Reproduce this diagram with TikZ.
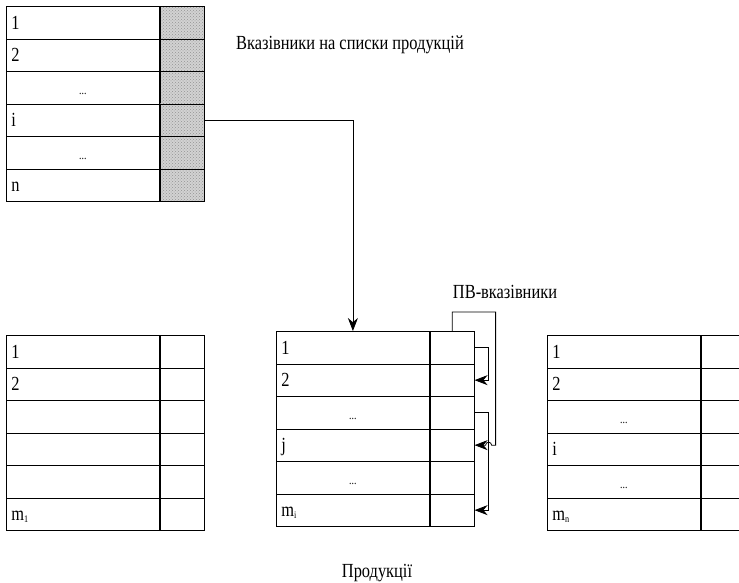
\documentclass[tikz,border=0pt]{standalone}
\usepackage{fontspec}
\setmainfont[FakeStretch=0.82]{Liberation Serif}
\usetikzlibrary{arrows.meta,patterns}
\newcommand{\rowdots}{...}
\newcommand{\idx}[1]{\raisebox{-1.5pt}{\fontsize{10}{10}\selectfont #1}}

\begin{document}
\begin{tikzpicture}[x=1pt, y=-1pt,
  font=\fontsize{20}{22}\selectfont,
  cell/.style={draw, line width=0.8pt, anchor=north west, inner ysep=0pt,
    minimum height=32.5pt, text height=13pt, text depth=0pt},
  key/.style={cell, inner xsep=5pt, text width=143pt, align=left},
  gap/.style={cell, inner xsep=5pt, text width=143pt, align=center,
    font=\fontsize{12}{12}\selectfont},
  ref/.style={cell, inner xsep=0pt, minimum width=44pt},
  shaded/.style={ref, preaction={fill=gray!35}, pattern=crosshatch dots,
    pattern color=gray!85},
  link/.style={-{Stealth[length=13pt,width=10pt]}, line width=0.8pt}]
  \useasboundingbox (0,0) rectangle (739,582);
  \foreach \r/\s/\t in {1/key/1, 2/key/2, 3/gap/\rowdots, 4/key/i, 5/gap/\rowdots, 6/key/n} {
    \node[\s] (ptr-\r) at (6,{6+(\r-1)*32.5}) {\t};
    \node[shaded] (ptr-\r-p) at (ptr-\r.north east) {};
  }
  \foreach \r/\s/\t in {1/key/1, 2/key/2, 3/key/, 4/key/, 5/key/, 6/key/m\idx{1}} {
    \node[\s] (left-\r) at (6,{335+(\r-1)*32.5}) {\t};
    \node[ref] (left-\r-p) at (left-\r.north east) {};
  }
  \foreach \r/\s/\t in {1/key/1, 2/key/2, 3/gap/\rowdots, 4/key/j, 5/gap/\rowdots, 6/key/m\idx{i}} {
    \node[\s] (mid-\r) at (276,{331+(\r-1)*32.5}) {\t};
    \node[ref] (mid-\r-p) at (mid-\r.north east) {};
  }
  \foreach \r/\s/\t in {1/key/1, 2/key/2, 3/gap/\rowdots, 4/key/i, 5/gap/\rowdots, 6/key/m\idx{n}} {
    \node[\s] (right-\r) at (547,{335+(\r-1)*32.5}) {\t};
    \node[ref] (right-\r-p) at (right-\r.north east) {};
  }
  \draw[link] (ptr-4-p.east) -| (mid-1.north);
  \draw[link] (mid-1-p.north) -- ++(0,-19) -| ([xshift=21pt]mid-4-p.east)
    -- ++(-4,0) arc[start angle=0, end angle=-180, radius=3] -- (mid-4-p.east);
  \draw[link] (mid-1-p.east) -- ++(14,0) |- (mid-2-p.east);
  \draw[link] (mid-3-p.east) -- ++(14,0) |- (mid-6-p.east);
  \node (ptr-label) at (350,45) {Вказівники на списки продукцій};
  \node (pv-label) at (505,292) {ПВ-вказівники};
  \node (prod-label) at (377,573) {Продукції};
\end{tikzpicture}
\end{document}
